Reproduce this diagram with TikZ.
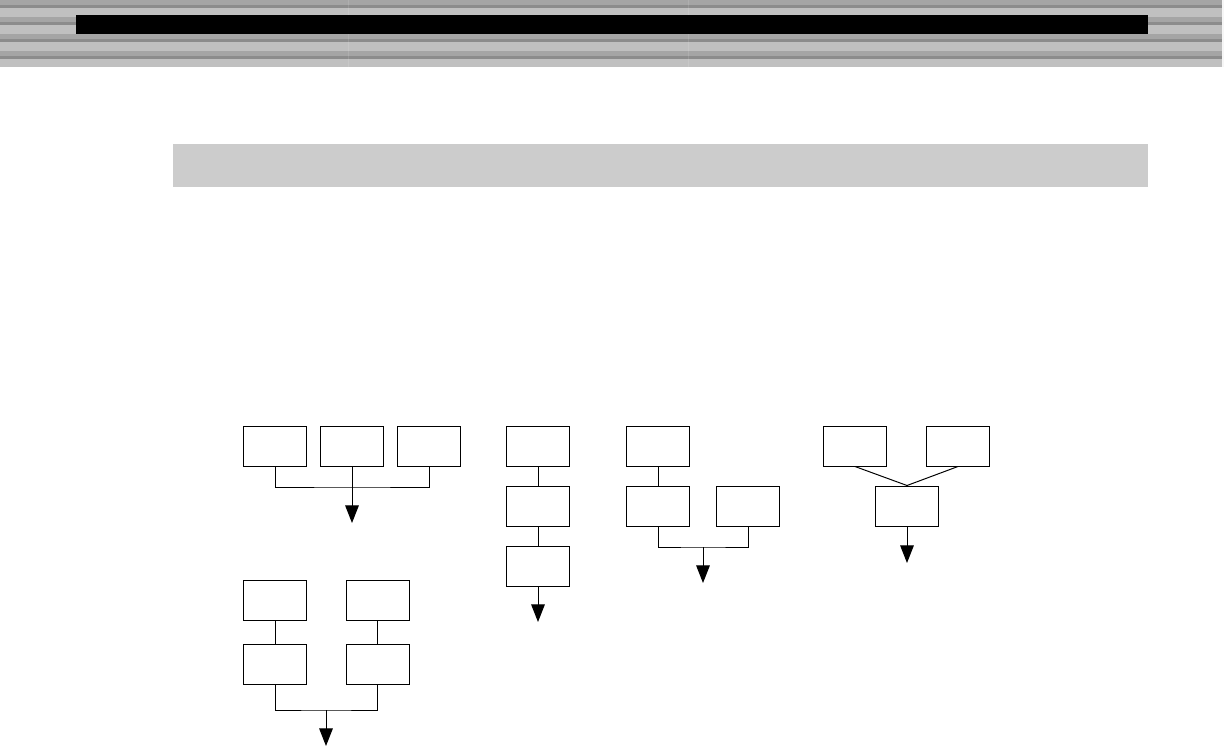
\documentclass[tikz,border=0pt]{standalone}
\usetikzlibrary{arrows.meta}
\definecolor{stripemid}{HTML}{A5A5A5}
\definecolor{stripedark}{HTML}{8C8C8C}
\definecolor{stripelight}{HTML}{C0C0C0}
\definecolor{bandgray}{HTML}{CCCCCC}
\tikzset{
  blk/.style={draw, line width=0.7pt, fill=white, minimum width=1.575cm, minimum height=1cm, inner sep=0pt},
  link/.style={line width=0.7pt},
  flow/.style={line width=0.7pt, -{Triangle[length=4.4mm, width=3.4mm]}}
}
\begin{document}
\begin{tikzpicture}[x=0.025cm, y=-0.025cm]
			\useasboundingbox (0,0) rectangle (1224,749);
			% header stripes
			\foreach \y in {0,17,34,51} {
				\fill[stripemid] (0,\y) rectangle (1224,\y+5);
				\fill[stripedark] (0,\y+5) rectangle (1224,\y+8);
				\fill[stripelight] (0,\y+8) rectangle (1224,{min(\y+17,67)});
			}
			\foreach \x in {348,688} \draw[white, opacity=0.12, line width=0.4pt] (\x,0) -- (\x,67);
			\fill[white!85!stripelight] (1222,0) rectangle (1224,67);
			\fill[black] (76,15) rectangle (1148,34);
			\fill[bandgray] (173,144) rectangle (1148,187);
			% three into one
			\node[blk] (a1) at (275,446) {};
			\node[blk] (a2) at (352,446) {};
			\node[blk] (a3) at (429,446) {};
			\coordinate (busA) at (352,487);
			\coordinate (tipA) at (352,523);
			\draw[link] (a1.south) |- (busA) -| (a3.south);
			\draw[flow] (a2.south) -- (tipA);
			% chain
			\node[blk] (b1) at (538,446) {};
			\node[blk] (b2) at (538,506) {};
			\node[blk] (b3) at (538,566) {};
			\coordinate (tipB) at (538,622);
			\draw[link] (b1) -- (b2) -- (b3);
			\draw[flow] (b3.south) -- (tipB);
			% chain and side box
			\node[blk] (c1) at (658,446) {};
			\node[blk] (c2) at (658,506) {};
			\node[blk] (c3) at (748,506) {};
			\coordinate (busC) at (703,547);
			\coordinate (tipC) at (703,583);
			\draw[link] (c1) -- (c2);
			\draw[link] (c2.south) |- (busC) -| (c3.south);
			\draw[flow] (busC) -- (tipC);
			% two into one
			\node[blk] (d1) at (855,446) {};
			\node[blk] (d2) at (958,446) {};
			\node[blk] (d3) at (907,506) {};
			\coordinate (tipD) at (907,563);
			\draw[link] (d1.south) -- (d3.north) -- (d2.south);
			\draw[flow] (d3.south) -- (tipD);
			% two chains joined
			\node[blk] (e1) at (275,600) {};
			\node[blk] (e2) at (377.5,600) {};
			\node[blk] (e3) at (275,664) {};
			\node[blk] (e4) at (377.5,664) {};
			\coordinate (busE) at (326,710);
			\coordinate (tipE) at (326,746);
			\draw[link] (e1) -- (e3);
			\draw[link] (e2) -- (e4);
			\draw[link] (e3.south) |- (busE) -| (e4.south);
			\draw[flow] (busE) -- (tipE);
		\end{tikzpicture}
\end{document}
